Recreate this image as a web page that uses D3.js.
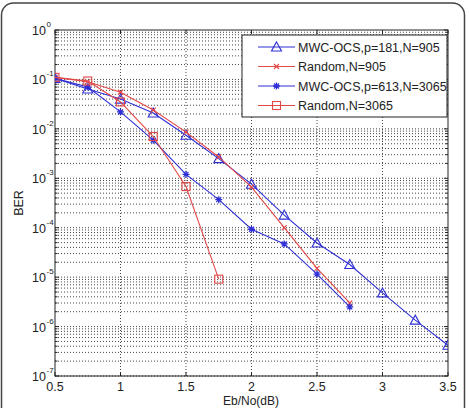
<!DOCTYPE html>
<html>
<head>
<meta charset="utf-8">
<script src="https://cdn.jsdelivr.net/npm/d3@7"></script>
<style>
  body { margin: 0; background: #fff; }
  svg { display: block; font-family: "Liberation Sans", Arial, sans-serif; }
</style>
</head>
<body>
<svg id="chart" width="469" height="408"></svg>
<script>
// Eb/No (dB) values
const xLong = [0.5, 0.75, 1, 1.25, 1.5, 1.75, 2, 2.25, 2.5, 2.75, 3, 3.25, 3.5];
const xMid = [0.5, 0.75, 1, 1.25, 1.5, 1.75, 2, 2.25, 2.5, 2.75];
const xShort = [0.5, 0.75, 1, 1.25, 1.5, 1.75];

// BER values
const mwc905 = [0.105, 0.064, 0.040, 0.021, 0.0074, 0.0025, 7.6e-4, 1.8e-4, 4.9e-5, 1.8e-5, 4.8e-6, 1.35e-6, 4.2e-7];
const random905 = [0.11, 0.09, 0.055, 0.024, 0.0086, 0.0027, 6.6e-4, 1.0e-4, 1.5e-5, 3.0e-6];
const mwc3065 = [0.105, 0.07, 0.022, 0.0059, 0.0012, 3.7e-4, 9.3e-5, 4.7e-5, 1.15e-5, 2.5e-6];
const random3065 = [0.11, 0.093, 0.035, 0.0070, 6.8e-4, 9.1e-6];

const xTicks = [0.5, 1, 1.5, 2, 2.5, 3, 3.5];
const yExponents = [0, -1, -2, -3, -4, -5, -6, -7];

const BLUE = '#2f2fd6';
const RED = '#e34848';

const series = [
  { name: 'MWC-OCS,p=181,N=905', xs: xLong, ys: mwc905, color: BLUE, marker: 'triangle' },
  { name: 'Random,N=905', xs: xMid, ys: random905, color: RED, marker: 'x' },
  { name: 'MWC-OCS,p=613,N=3065', xs: xMid, ys: mwc3065, color: BLUE, marker: 'star' },
  { name: 'Random,N=3065', xs: xShort, ys: random3065, color: RED, marker: 'square' }
];

const svg = d3.select('#chart');
const plot = { left: 55, right: 448, top: 30, bottom: 376 };

const x = d3.scaleLinear().domain([0.5, 3.5]).range([plot.left, plot.right]);
const y = d3.scaleLog().domain([1e-7, 1]).range([plot.bottom, plot.top]);

// outer rounded frame
svg.append('rect')
  .attr('x', 1.5).attr('y', 3).attr('width', 463).attr('height', 420)
  .attr('rx', 12).attr('ry', 12)
  .attr('fill', 'none').attr('stroke', '#444').attr('stroke-width', 1.5);

// grid
const grid = svg.append('g').attr('stroke', '#333').attr('stroke-width', 0.9)
  .attr('stroke-dasharray', '1,2');
let minorVals = [];
yExponents.forEach(e => {
  if (e === 0) return;
  for (let m = 1; m <= 9; m++) minorVals.push(m * Math.pow(10, e));
});
grid.selectAll('line.h').data(minorVals).join('line')
  .attr('x1', plot.left).attr('x2', plot.right)
  .attr('y1', d => y(d)).attr('y2', d => y(d));
grid.selectAll('line.v').data(xTicks.slice(1, -1)).join('line')
  .attr('x1', d => x(d)).attr('x2', d => x(d))
  .attr('y1', plot.top).attr('y2', plot.bottom);

// axes box
svg.append('rect')
  .attr('x', plot.left).attr('y', plot.top)
  .attr('width', plot.right - plot.left).attr('height', plot.bottom - plot.top)
  .attr('fill', 'none').attr('stroke', '#222').attr('stroke-width', 1);

// ticks
const ticks = svg.append('g').attr('stroke', '#222').attr('stroke-width', 1);
xTicks.forEach(t => {
  ticks.append('line').attr('x1', x(t)).attr('x2', x(t)).attr('y1', plot.bottom).attr('y2', plot.bottom - 4);
  ticks.append('line').attr('x1', x(t)).attr('x2', x(t)).attr('y1', plot.top).attr('y2', plot.top + 4);
});
minorVals.concat([1]).forEach(v => {
  const major = Math.abs(Math.log10(v) - Math.round(Math.log10(v))) < 1e-9;
  const len = major ? 4 : 2.5;
  ticks.append('line').attr('x1', plot.left).attr('x2', plot.left + len).attr('y1', y(v)).attr('y2', y(v));
  ticks.append('line').attr('x1', plot.right).attr('x2', plot.right - len).attr('y1', y(v)).attr('y2', y(v));
});

// tick labels
svg.append('g').selectAll('text').data(xTicks).join('text')
  .attr('x', d => x(d)).attr('y', 391)
  .attr('text-anchor', 'middle').attr('font-size', 12.5).attr('fill', '#222')
  .text(d => d);

const yl = svg.append('g').attr('fill', '#222');
yExponents.forEach(e => {
  const yy = y(Math.pow(10, e));
  yl.append('text').attr('x', 46).attr('y', yy + 5)
    .attr('text-anchor', 'end').attr('font-size', 12.5).text('10');
  yl.append('text').attr('x', 46.5).attr('y', yy - 3)
    .attr('font-size', 8).text(e);
});

svg.append('text')
  .attr('transform', 'translate(23,203) rotate(-90)')
  .attr('text-anchor', 'middle').attr('font-size', 12.5).attr('fill', '#222')
  .text('BER');
svg.append('text')
  .attr('x', 251).attr('y', 405)
  .attr('text-anchor', 'middle').attr('font-size', 12).attr('fill', '#222')
  .text('Eb/No(dB)');

// markers
function drawMarker (g, type, cx, cy, color) {
  if (type === 'triangle') {
    g.append('path')
      .attr('d', `M${cx},${cy - 5}L${cx + 5},${cy + 4}L${cx - 5},${cy + 4}Z`)
      .attr('fill', 'none').attr('stroke', color).attr('stroke-width', 1.1);
  } else if (type === 'square') {
    g.append('rect').attr('x', cx - 4).attr('y', cy - 4).attr('width', 8).attr('height', 8)
      .attr('fill', 'none').attr('stroke', color).attr('stroke-width', 1.1);
  } else if (type === 'x') {
    g.append('path')
      .attr('d', `M${cx - 2.5},${cy - 2.5}L${cx + 2.5},${cy + 2.5}M${cx - 2.5},${cy + 2.5}L${cx + 2.5},${cy - 2.5}`)
      .attr('stroke', color).attr('stroke-width', 1.1);
  } else if (type === 'star') {
    g.append('path')
      .attr('d', `M${cx - 3.5},${cy}L${cx + 3.5},${cy}M${cx},${cy - 3.5}L${cx},${cy + 3.5}` +
        `M${cx - 2.5},${cy - 2.5}L${cx + 2.5},${cy + 2.5}M${cx - 2.5},${cy + 2.5}L${cx + 2.5},${cy - 2.5}`)
      .attr('stroke', color).attr('stroke-width', 1.3);
  }
}

svg.append('clipPath').attr('id', 'plotClip').append('rect')
  .attr('x', plot.left).attr('y', plot.top)
  .attr('width', plot.right - plot.left).attr('height', plot.bottom - plot.top);

const line = d3.line().x(d => x(d[0])).y(d => y(d[1]));
const layer = svg.append('g').attr('clip-path', 'url(#plotClip)');
series.forEach(s => {
  const pts = s.xs.map((v, i) => [v, s.ys[i]]);
  layer.append('path').datum(pts).attr('d', line)
    .attr('fill', 'none').attr('stroke', s.color).attr('stroke-width', 1.1);
  const mg = layer.append('g');
  pts.forEach(p => drawMarker(mg, s.marker, x(p[0]), y(p[1]), s.color));
});

// legend
const legend = svg.append('g');
legend.append('rect')
  .attr('x', 242).attr('y', 35).attr('width', 205).attr('height', 82)
  .attr('fill', '#fff').attr('stroke', '#222').attr('stroke-width', 1);
series.forEach((s, i) => {
  const ly = 47 + i * 19.5;
  legend.append('line').attr('x1', 258).attr('x2', 295).attr('y1', ly).attr('y2', ly)
    .attr('stroke', s.color).attr('stroke-width', 1.1);
  drawMarker(legend, s.marker, 276.5, ly, s.color);
  legend.append('text').attr('x', 298).attr('y', ly + 4.5)
    .attr('font-size', 12.5).attr('fill', '#222').text(s.name);
});
</script>
</body>
</html>
